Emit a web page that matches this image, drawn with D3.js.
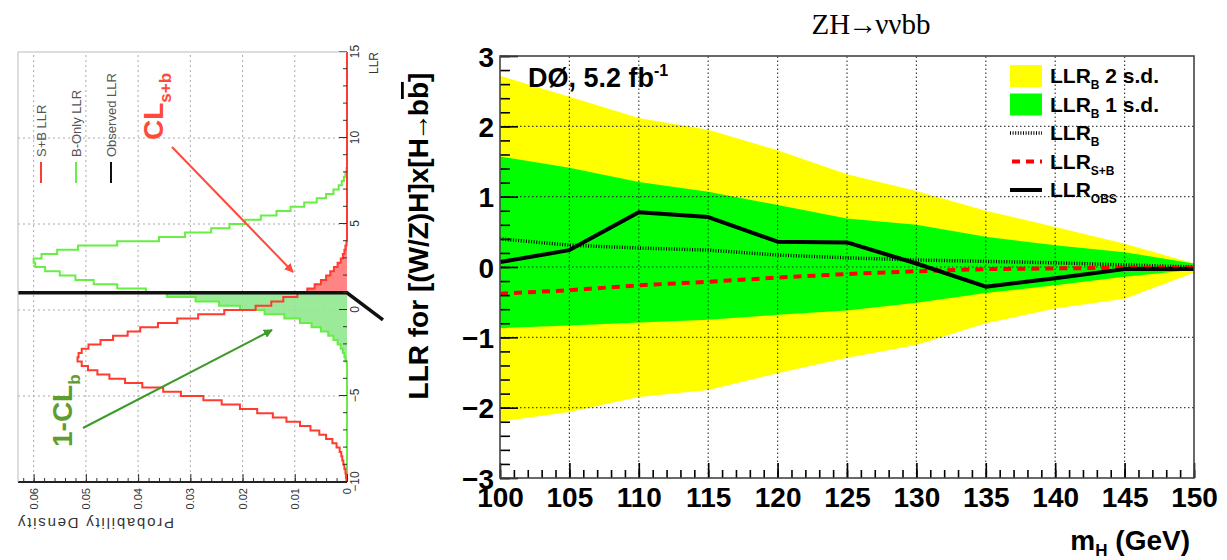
<!DOCTYPE html>
<html>
<head>
<meta charset="utf-8">
<script src="https://cdn.jsdelivr.net/npm/d3@7"></script>
<style>
body { margin: 0; background: #fff; }
text { font-family: "Liberation Sans", Arial, sans-serif; }
</style>
</head>
<body>
<script>
// ---- right panel: LLR vs mH ----
var mass     = [100, 105, 110, 115, 120, 125, 130, 135, 140, 145, 150];
var band2Up  = [2.72, 2.42, 2.12, 1.95, 1.66, 1.32, 1.08, 0.80, 0.57, 0.33, 0.05];
var band1Up  = [1.57, 1.41, 1.21, 1.07, 0.88, 0.69, 0.60, 0.43, 0.31, 0.21, 0.05];
var band1Dn  = [-0.87, -0.83, -0.79, -0.75, -0.68, -0.62, -0.51, -0.37, -0.26, -0.14, -0.04];
var band2Dn  = [-2.20, -2.06, -1.85, -1.75, -1.51, -1.29, -1.11, -0.80, -0.59, -0.45, -0.08];
var llrB     = [0.40, 0.31, 0.27, 0.24, 0.17, 0.13, 0.10, 0.08, 0.06, 0.03, 0.00];
var llrSB    = [-0.38, -0.33, -0.26, -0.21, -0.15, -0.10, -0.06, -0.03, -0.02, -0.01, -0.01];
var llrObs   = [0.07, 0.24, 0.78, 0.71, 0.36, 0.35, 0.05, -0.28, -0.16, -0.03, -0.03];
var massTicks = [100, 105, 110, 115, 120, 125, 130, 135, 140, 145, 150];
var llrTicks  = [-3, -2, -1, 0, 1, 2, 3];

// ---- left panel: LLR distributions (drawn rotated) ----
var binW = 0.25;
var sbStart = -10;   // first bin edge of S+B histogram
var sbDensity = [0.0001, 0.0002, 0.0003, 0.0005, 0.0007, 0.0009, 0.0011, 0.0014, 0.0020, 0.0028,
                 0.0040, 0.0053, 0.0070, 0.0090, 0.0116, 0.0142, 0.0172, 0.0205, 0.0240, 0.0275,
                 0.0318, 0.0352, 0.0392, 0.0425, 0.0455, 0.0478, 0.0496, 0.0508, 0.0516, 0.0514,
                 0.0508, 0.0495, 0.0472, 0.0448, 0.0420, 0.0396, 0.0362, 0.0325, 0.0285, 0.0235,
                 0.0175, 0.0145, 0.0122, 0.0095, 0.0076, 0.0062, 0.0050, 0.0040, 0.0032, 0.0025,
                 0.0018, 0.0012, 0.0008, 0.0005, 0.0003, 0.0001];
var bStart = -3;     // first bin edge of B-only histogram
var bDensity = [0.0003, 0.0005, 0.0008, 0.0012, 0.0018, 0.0026, 0.0036, 0.0050, 0.0068, 0.0090,
                0.0120, 0.0158, 0.0205, 0.0245, 0.0290, 0.0345, 0.0385, 0.0440, 0.0485, 0.0520,
                0.0550, 0.0578, 0.0597, 0.0600, 0.0585, 0.0555, 0.0515, 0.0440, 0.0360, 0.0310,
                0.0260, 0.0225, 0.0195, 0.0165, 0.0135, 0.0108, 0.0082, 0.0058, 0.0040, 0.0026,
                0.0016, 0.0010, 0.0006, 0.0003, 0.0001];
var llrObserved = 1.0;
var leftLlrTicks = [-10, -5, 0, 5, 10, 15];
var densityTicks = [0, 0.01, 0.02, 0.03, 0.04, 0.05, 0.06];

var svg = d3.select("body").append("svg")
    .attr("width", 1227)
    .attr("height", 560);
svg.append("rect").attr("width", 1227).attr("height", 560).attr("fill", "#fff");

/* ===================== right panel ===================== */
var x = d3.scaleLinear().domain([100, 150]).range([500, 1194]);
var y = d3.scaleLinear().domain([-3, 3]).range([478, 56]);

var area2 = d3.area()
    .x(function (d, i) { return x(mass[i]); })
    .y0(function (d, i) { return y(band2Dn[i]); })
    .y1(function (d) { return y(d); });
var area1 = d3.area()
    .x(function (d, i) { return x(mass[i]); })
    .y0(function (d, i) { return y(band1Dn[i]); })
    .y1(function (d) { return y(d); });
var line = d3.line()
    .x(function (d, i) { return x(mass[i]); })
    .y(function (d) { return y(d); });

svg.append("path").datum(band2Up).attr("d", area2).attr("fill", "#ffff00");
svg.append("path").datum(band1Up).attr("d", area1).attr("fill", "#00ff00");

// dotted grid
var grid = svg.append("g").attr("stroke", "#222").attr("stroke-width", 1.2)
    .attr("stroke-dasharray", "1.5,2.5").attr("opacity", 0.85);
grid.selectAll(".gx").data(massTicks.slice(1, -1)).enter().append("line")
    .attr("x1", function (d) { return x(d); }).attr("x2", function (d) { return x(d); })
    .attr("y1", y(-3)).attr("y2", y(3));
grid.selectAll(".gy").data(llrTicks.slice(1, -1)).enter().append("line")
    .attr("y1", function (d) { return y(d); }).attr("y2", function (d) { return y(d); })
    .attr("x1", x(100)).attr("x2", x(150));

svg.append("path").datum(llrB).attr("d", line).attr("fill", "none")
    .attr("stroke", "#000").attr("stroke-width", 3.5).attr("stroke-dasharray", "1,1.6");
svg.append("path").datum(llrSB).attr("d", line).attr("fill", "none")
    .attr("stroke", "#ff0000").attr("stroke-width", 4).attr("stroke-dasharray", "8,6");
svg.append("path").datum(llrObs).attr("d", line).attr("fill", "none")
    .attr("stroke", "#000").attr("stroke-width", 4).attr("stroke-linejoin", "round");

// axes
var xMinor = svg.append("g").attr("transform", "translate(0,478)")
    .call(d3.axisBottom(x).tickValues(d3.range(100, 151, 1)).tickSize(-8).tickFormat(""));
var xMajor = svg.append("g").attr("transform", "translate(0,478)")
    .call(d3.axisBottom(x).tickValues(massTicks).tickSize(-15).tickPadding(9).tickFormat(d3.format("d")));
var yMinor = svg.append("g").attr("transform", "translate(500,0)")
    .call(d3.axisLeft(y).tickValues(d3.range(-15, 16, 1).map(function (d) { return d / 5; })).tickSize(-10).tickFormat(""));
var yMajor = svg.append("g").attr("transform", "translate(500,0)")
    .call(d3.axisLeft(y).tickValues(llrTicks).tickSize(-18).tickPadding(6).tickFormat(d3.format("d")));
[xMinor, xMajor, yMinor, yMajor].forEach(function (g) {
    g.select(".domain").remove();
    g.selectAll(".tick line").attr("stroke", "#000").attr("stroke-width", 1.6);
    g.selectAll("text").attr("fill", "#000").attr("font-size", 28).attr("font-weight", "bold");
});
yMajor.selectAll("text").attr("dy", "0.36em");

svg.append("rect").attr("x", 500).attr("y", 56).attr("width", 694).attr("height", 422)
    .attr("fill", "none").attr("stroke", "#444").attr("stroke-width", 1.6);

// titles
var tt = svg.append("text").attr("x", 871).attr("y", 34).attr("text-anchor", "middle")
    .style("font-family", "'Liberation Serif', 'Times New Roman', serif").attr("font-size", 29);
tt.append("tspan").text("ZH");
tt.append("tspan").attr("dx", -2).text("\u2192");
tt.append("tspan").attr("dx", -2).text("\u03bd\u03bdbb");

var yt = svg.append("text").attr("transform", "translate(428,236) rotate(-90)")
    .attr("text-anchor", "middle").attr("font-size", 28).attr("font-weight", "bold");
yt.append("tspan").text("LLR for [(W/Z)H]x[H");
yt.append("tspan").attr("dx", -3).text("\u2192");
yt.append("tspan").attr("dx", -3).text("b");
yt.append("tspan").style("text-decoration", "overline").text("b");
yt.append("tspan").text("]");

var xt = svg.append("text").attr("x", 1190).attr("y", 550).attr("text-anchor", "end")
    .attr("font-size", 28).attr("font-weight", "bold");
xt.append("tspan").text("m");
xt.append("tspan").attr("font-size", 17).attr("dy", 6).text("H");
xt.append("tspan").attr("dy", -6).text(" (GeV)");

var d0 = svg.append("text").attr("x", 528).attr("y", 87).attr("font-size", 27).attr("font-weight", "bold");
d0.append("tspan").text("D\u00d8, 5.2 fb");
d0.append("tspan").attr("font-size", 16).attr("dy", -11).text("-1");

// legend
var legRows = [
    { sub: "B", tail: " 2 s.d.", kind: "box", color: "#ffff00" },
    { sub: "B", tail: " 1 s.d.", kind: "box", color: "#00ff00" },
    { sub: "B", tail: "", kind: "dot", color: "#000" },
    { sub: "S+B", tail: "", kind: "dash", color: "#ff0000" },
    { sub: "OBS", tail: "", kind: "solid", color: "#000" }
];
var leg = svg.append("g");
legRows.forEach(function (r, i) {
    var cy = 76 + i * 28.5;
    if (r.kind === "box") {
        leg.append("rect").attr("x", 1010).attr("y", cy - 11).attr("width", 32).attr("height", 22).attr("fill", r.color);
    } else {
        var l = leg.append("line").attr("x1", 1010).attr("x2", 1042).attr("y1", cy).attr("y2", cy)
            .attr("stroke", r.color).attr("stroke-width", r.kind === "dot" ? 3.5 : 4);
        if (r.kind === "dot") l.attr("stroke-dasharray", "1,1.6");
        if (r.kind === "dash") l.attr("stroke-dasharray", "8,6").attr("x1", 1012);
    }
    var t = leg.append("text").attr("x", 1050).attr("y", cy + 7).attr("font-size", 21).attr("font-weight", "bold");
    t.append("tspan").text("LLR");
    t.append("tspan").attr("font-size", 12).attr("dy", 6).text(r.sub);
    if (r.tail) t.append("tspan").attr("dy", -6).text(r.tail);
});

/* ===================== left panel (rotated) ===================== */
var W = 430, H = 329;
var g2 = svg.append("g").attr("transform", "translate(18,482) rotate(-90)");
var xl = d3.scaleLinear().domain([-10, 15]).range([0, W]);
var yl = d3.scaleLinear().domain([0, 0.063]).range([H, 0]);

// grid
var g2grid = g2.append("g").attr("stroke", "#aaa").attr("stroke-width", 1).attr("stroke-dasharray", "2,3");
g2grid.selectAll(".a").data(densityTicks.slice(1)).enter().append("line")
    .attr("x1", 0).attr("x2", W)
    .attr("y1", function (d) { return yl(d); }).attr("y2", function (d) { return yl(d); });
g2grid.selectAll(".b").data(leftLlrTicks.slice(1, -1)).enter().append("line")
    .attr("y1", 0).attr("y2", H)
    .attr("x1", function (d) { return xl(d); }).attr("x2", function (d) { return xl(d); });

function bins(start, vals) {
    return vals.map(function (v, i) { return { lo: start + i * binW, hi: start + (i + 1) * binW, v: v }; });
}
var sbBins = bins(sbStart, sbDensity);
var bBins = bins(bStart, bDensity);

function stepPts(bs) {
    var p = [[-10, 0]];
    bs.forEach(function (b) { p.push([b.lo, b.v]); });
    p.push([bs[bs.length - 1].hi, 0]);
    p.push([15, 0]);
    return p;
}
function fillPts(bs) {
    var p = bs.map(function (b) { return [b.lo, b.v]; });
    var last = bs[bs.length - 1];
    p.push([last.hi, last.v]);
    return p;
}
var stepLine = d3.line().curve(d3.curveStepAfter)
    .x(function (d) { return xl(d[0]); }).y(function (d) { return yl(d[1]); });
var stepArea = d3.area().curve(d3.curveStepAfter)
    .x(function (d) { return xl(d[0]); }).y0(yl(0)).y1(function (d) { return yl(d[1]); });

g2.append("path").datum(fillPts(sbBins.filter(function (b) { return b.lo >= llrObserved; })))
    .attr("d", stepArea).attr("fill", "#ff7070").attr("opacity", 0.85);
g2.append("path").datum(fillPts(bBins.filter(function (b) { return b.hi <= llrObserved; })))
    .attr("d", stepArea).attr("fill", "#8fe88f").attr("opacity", 0.9);

g2.append("path").datum(stepPts(bBins)).attr("d", stepLine).attr("fill", "none")
    .attr("stroke", "#66ee44").attr("stroke-width", 2);
g2.append("path").datum(stepPts(sbBins)).attr("d", stepLine).attr("fill", "none")
    .attr("stroke", "#ff3b30").attr("stroke-width", 2);

// observed LLR
g2.append("path")
    .attr("d", "M" + xl(llrObserved) + ",0L" + xl(llrObserved) + "," + H + "L" + (xl(llrObserved) - 27) + "," + (H + 36))
    .attr("fill", "none").attr("stroke", "#111").attr("stroke-width", 3.5);

// axes of left panel
var la1 = g2.append("g").attr("transform", "translate(0," + H + ")")
    .call(d3.axisBottom(xl).tickValues(d3.range(-10, 16, 1)).tickSize(-4).tickFormat(""));
var la2 = g2.append("g").attr("transform", "translate(0," + H + ")")
    .call(d3.axisBottom(xl).tickValues(leftLlrTicks).tickSize(-8).tickPadding(3));
var la3 = g2.append("g")
    .call(d3.axisLeft(yl).tickValues(d3.range(0, 32, 1).map(function (d) { return d * 0.002; })).tickSize(-4).tickFormat(""));
var la4 = g2.append("g")
    .call(d3.axisLeft(yl).tickValues(densityTicks).tickSize(-8).tickPadding(6)
        .tickFormat(function (d) { return d === 0 ? "0" : d3.format(".2f")(d); }));
[la1, la2, la3, la4].forEach(function (g) {
    g.select(".domain").remove();
    g.selectAll(".tick line").attr("stroke", "#333");
    g.selectAll("text").attr("fill", "#333").attr("font-size", 11);
});
la2.selectAll("text").attr("font-size", 12);
g2.append("line").attr("x1", 0).attr("x2", 0).attr("y1", 0).attr("y2", H).attr("stroke", "#222").attr("stroke-width", 2);
g2.append("line").attr("x1", W).attr("x2", W).attr("y1", 0).attr("y2", H).attr("stroke", "#bbb");
g2.append("line").attr("x1", 0).attr("x2", W).attr("y1", 0).attr("y2", 0).attr("stroke", "#bbb");

g2.append("text").attr("x", W).attr("y", H + 31).attr("text-anchor", "end").attr("font-size", 12)
    .attr("fill", "#333").text("LLR");
g2.append("text").attr("transform", "translate(-36,0) rotate(-90)").attr("text-anchor", "end")
    .attr("font-size", 15).attr("fill", "#333").attr("textLength", 156).text("Probability Density");

// legend of left panel
var lLeg = [
    { label: "S+B LLR", color: "#ff3b30" },
    { label: "B-Only LLR", color: "#66ee44" },
    { label: "Observed LLR", color: "#111" }
];
lLeg.forEach(function (d, i) {
    var v = 23 + i * 35;
    g2.append("line").attr("x1", 299).attr("x2", 320).attr("y1", v).attr("y2", v)
        .attr("stroke", d.color).attr("stroke-width", 2);
    g2.append("text").attr("x", 325).attr("y", v + 5).attr("font-size", 13).attr("fill", "#555").text(d.label);
});

// annotations
var defs = svg.append("defs");
[["arrRed", "#ff4a3a"], ["arrGreen", "#3f9a2a"]].forEach(function (m) {
    defs.append("marker").attr("id", m[0]).attr("viewBox", "0 0 10 10").attr("refX", 9).attr("refY", 5)
        .attr("markerWidth", 9).attr("markerHeight", 9).attr("markerUnits", "userSpaceOnUse")
        .attr("orient", "auto")
        .append("path").attr("d", "M0,0L10,5L0,10z").attr("fill", m[1]);
});
g2.append("line").attr("x1", 335).attr("y1", 154).attr("x2", 210).attr("y2", 275)
    .attr("stroke", "#ff4a3a").attr("stroke-width", 2).attr("marker-end", "url(#arrRed)");
g2.append("line").attr("x1", 54).attr("y1", 65).attr("x2", 152).attr("y2", 254)
    .attr("stroke", "#3f9a2a").attr("stroke-width", 2).attr("marker-end", "url(#arrGreen)");

var cl1 = g2.append("text").attr("x", 342).attr("y", 145).attr("font-size", 28)
    .attr("font-weight", "bold").attr("fill", "#ff4a3a");
cl1.append("tspan").text("CL");
cl1.append("tspan").attr("font-size", 17).attr("dy", 8).text("s+b");

var cl2 = g2.append("text").attr("x", 35).attr("y", 54).attr("font-size", 28)
    .attr("font-weight", "bold").attr("fill", "#5e9e2e");
cl2.append("tspan").text("1-CL");
cl2.append("tspan").attr("font-size", 17).attr("dy", 8).text("b");
</script>
</body>
</html>
